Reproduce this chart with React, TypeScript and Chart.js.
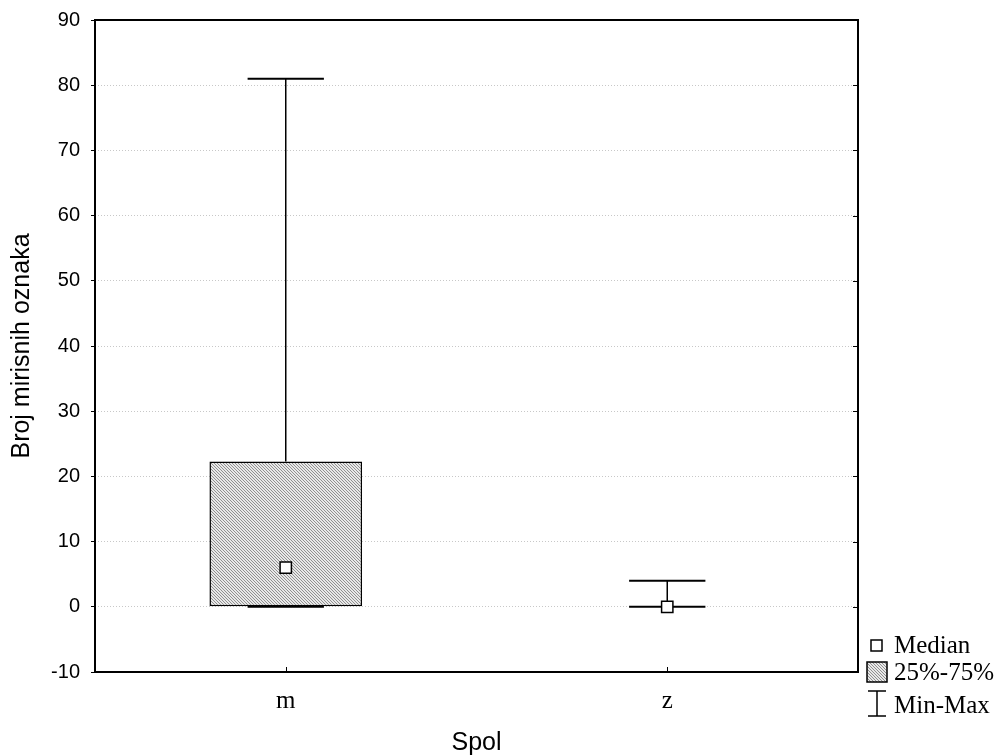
import React, { useEffect, useRef } from 'react';
import { Chart, registerables } from 'chart.js';

Chart.register(...registerables);

const categories = ['m', 'z'];
const minValues = [0, 0];
const q1Values = [0, 0];
const medianValues = [6, 0];
const q3Values = [22.3, 0];
const maxValues = [81, 4];
const yMin = -10;
const yMax = 90;
const yStep = 10;
const legendLabels = ['Median', '25%-75%', 'Min-Max'];
const xTitle = 'Spol';
const yTitle = 'Broj mirisnih oznaka';

function makePattern(): CanvasPattern | string {
  const c = document.createElement('canvas');
  c.width = 3;
  c.height = 3;
  const g = c.getContext('2d');
  if (!g) return '#cccccc';
  g.fillStyle = '#e8e8e8';
  g.fillRect(0, 0, 3, 3);
  g.fillStyle = '#909090';
  for (let i = 0; i < 3; i++) g.fillRect(i, i, 1, 1);
  const p = g.createPattern(c, 'repeat');
  return p || '#cccccc';
}

export default function App() {
  const ref = useRef<HTMLCanvasElement | null>(null);

  useEffect(() => {
    if (!ref.current) return;
    const pattern = makePattern();
    const boxData = q1Values.map((v, i) => (q3Values[i] > v ? [v, q3Values[i]] : null));
    const barPct = 0.4;

    const whiskerPlugin = {
      id: 'whiskers',
      afterDatasetDraw(chart: any, args: any) {
        if (args.index !== 0) return;
        const { ctx, scales } = chart;
        const x = scales.x;
        const y = scales.y;
        const catW = x.width / categories.length;
        const capHalf = (catW * barPct) / 4;
        ctx.save();
        ctx.strokeStyle = '#000';
        categories.forEach((_, i) => {
          const cx = x.getPixelForValue(i);
          const pMin = y.getPixelForValue(minValues[i]);
          const pQ1 = y.getPixelForValue(q1Values[i]);
          const pQ3 = y.getPixelForValue(q3Values[i]);
          const pMax = y.getPixelForValue(maxValues[i]);
          ctx.lineWidth = 1.5;
          ctx.beginPath();
          ctx.moveTo(cx, pQ3);
          ctx.lineTo(cx, pMax);
          ctx.moveTo(cx, pMin);
          ctx.lineTo(cx, pQ1);
          ctx.stroke();
          ctx.lineWidth = 2;
          ctx.beginPath();
          ctx.moveTo(cx - capHalf, pMax);
          ctx.lineTo(cx + capHalf, pMax);
          ctx.moveTo(cx - capHalf, pMin);
          ctx.lineTo(cx + capHalf, pMin);
          ctx.stroke();
        });
        ctx.restore();
      },
    };

    const framePlugin = {
      id: 'frame',
      afterDraw(chart: any) {
        const { ctx, chartArea, scales } = chart;
        const y = scales.y;
        const x = scales.x;
        ctx.save();
        ctx.strokeStyle = '#000';
        ctx.lineWidth = 2;
        ctx.strokeRect(chartArea.left, chartArea.top, chartArea.right - chartArea.left, chartArea.bottom - chartArea.top);
        ctx.lineWidth = 1;
        ctx.beginPath();
        y.ticks.forEach((t: any) => {
          const py = Math.round(y.getPixelForValue(t.value)) + 0.5;
          ctx.moveTo(chartArea.right, py);
          ctx.lineTo(chartArea.right - 5, py);
        });
        categories.forEach((_, i) => {
          const px = Math.round(x.getPixelForValue(i)) + 0.5;
          ctx.moveTo(px, chartArea.bottom);
          ctx.lineTo(px, chartArea.bottom - 5);
        });
        ctx.stroke();

        // legend
        const lx = 877;
        ctx.fillStyle = '#fff';
        ctx.lineWidth = 1.5;
        ctx.fillRect(871, 640, 11, 11);
        ctx.strokeRect(871, 640, 11, 11);
        ctx.fillStyle = pattern as any;
        ctx.fillRect(867, 662, 20, 20);
        ctx.strokeRect(867, 662, 20, 20);
        ctx.lineWidth = 1.5;
        ctx.beginPath();
        ctx.moveTo(lx - 9, 691);
        ctx.lineTo(lx + 9, 691);
        ctx.moveTo(lx, 691);
        ctx.lineTo(lx, 716);
        ctx.moveTo(lx - 9, 716);
        ctx.lineTo(lx + 9, 716);
        ctx.stroke();
        ctx.fillStyle = '#000';
        ctx.font = '25px "Liberation Serif"';
        ctx.textBaseline = 'middle';
        ctx.textAlign = 'left';
        ctx.fillText(legendLabels[0], 894, 646);
        ctx.fillText(legendLabels[1], 894, 673);
        ctx.fillText(legendLabels[2], 894, 706);
        ctx.restore();
      },
    };

    const chart = new Chart(ref.current, {
      type: 'bar',
      data: {
        labels: categories,
        datasets: [
          {
            type: 'bar',
            data: boxData as any,
            backgroundColor: pattern as any,
            borderColor: '#000',
            borderWidth: 1.5,
            borderSkipped: false,
            barPercentage: barPct,
            categoryPercentage: 1,
            order: 1,
          },
          {
            type: 'line',
            data: medianValues,
            showLine: false,
            pointStyle: 'rect',
            pointRadius: 8,
            pointBackgroundColor: '#fff',
            pointBorderColor: '#000',
            pointBorderWidth: 1.5,
            order: 0,
          } as any,
        ],
      },
      plugins: [whiskerPlugin, framePlugin],
      options: {
        responsive: false,
        animation: false,
        devicePixelRatio: 1,
        layout: { padding: { left: 0, top: 20, right: 142, bottom: 0 } },
        plugins: { legend: { display: false }, tooltip: { enabled: false } },
        scales: {
          x: {
            type: 'category',
            offset: true,
            grid: { display: false, drawTicks: false },
            border: { display: false },
            ticks: {
              color: '#000',
              font: { family: '"Liberation Serif"', size: 25 },
              padding: 14,
            },
            title: {
              display: true,
              text: xTitle,
              color: '#000',
              font: { family: '"Liberation Sans"', size: 25 },
              padding: { top: 0, bottom: -3 },
            },
            afterFit: (s: any) => {
              s.height = 83;
              s.paddingLeft = 0;
              s.paddingRight = 0;
            },
          },
          y: {
            min: yMin,
            max: yMax,
            ticks: {
              stepSize: yStep,
              color: '#000',
              font: { family: '"Liberation Sans"', size: 20 },
              padding: 11,
            },
            grid: {
              color: '#c8c8c8',
              lineWidth: 1,
              tickColor: '#000',
              tickLength: 4,
              borderDash: [1, 2],
            } as any,
            border: { display: false, dash: [1, 2] },
            title: {
              display: true,
              text: yTitle,
              color: '#000',
              font: { family: '"Liberation Sans"', size: 25 },
              padding: { top: 7, bottom: 0 },
            },
            afterFit: (s: any) => {
              s.width = 95;
              s.paddingTop = 0;
              s.paddingBottom = 0;
            },
          },
        },
      },
    });
    return () => chart.destroy();
  }, []);

  return (
    <div style={{ position: 'absolute', left: 0, top: 0, width: 1000, height: 755, background: '#fff' }}>
      <canvas ref={ref} width={1000} height={755} />
    </div>
  );
}
